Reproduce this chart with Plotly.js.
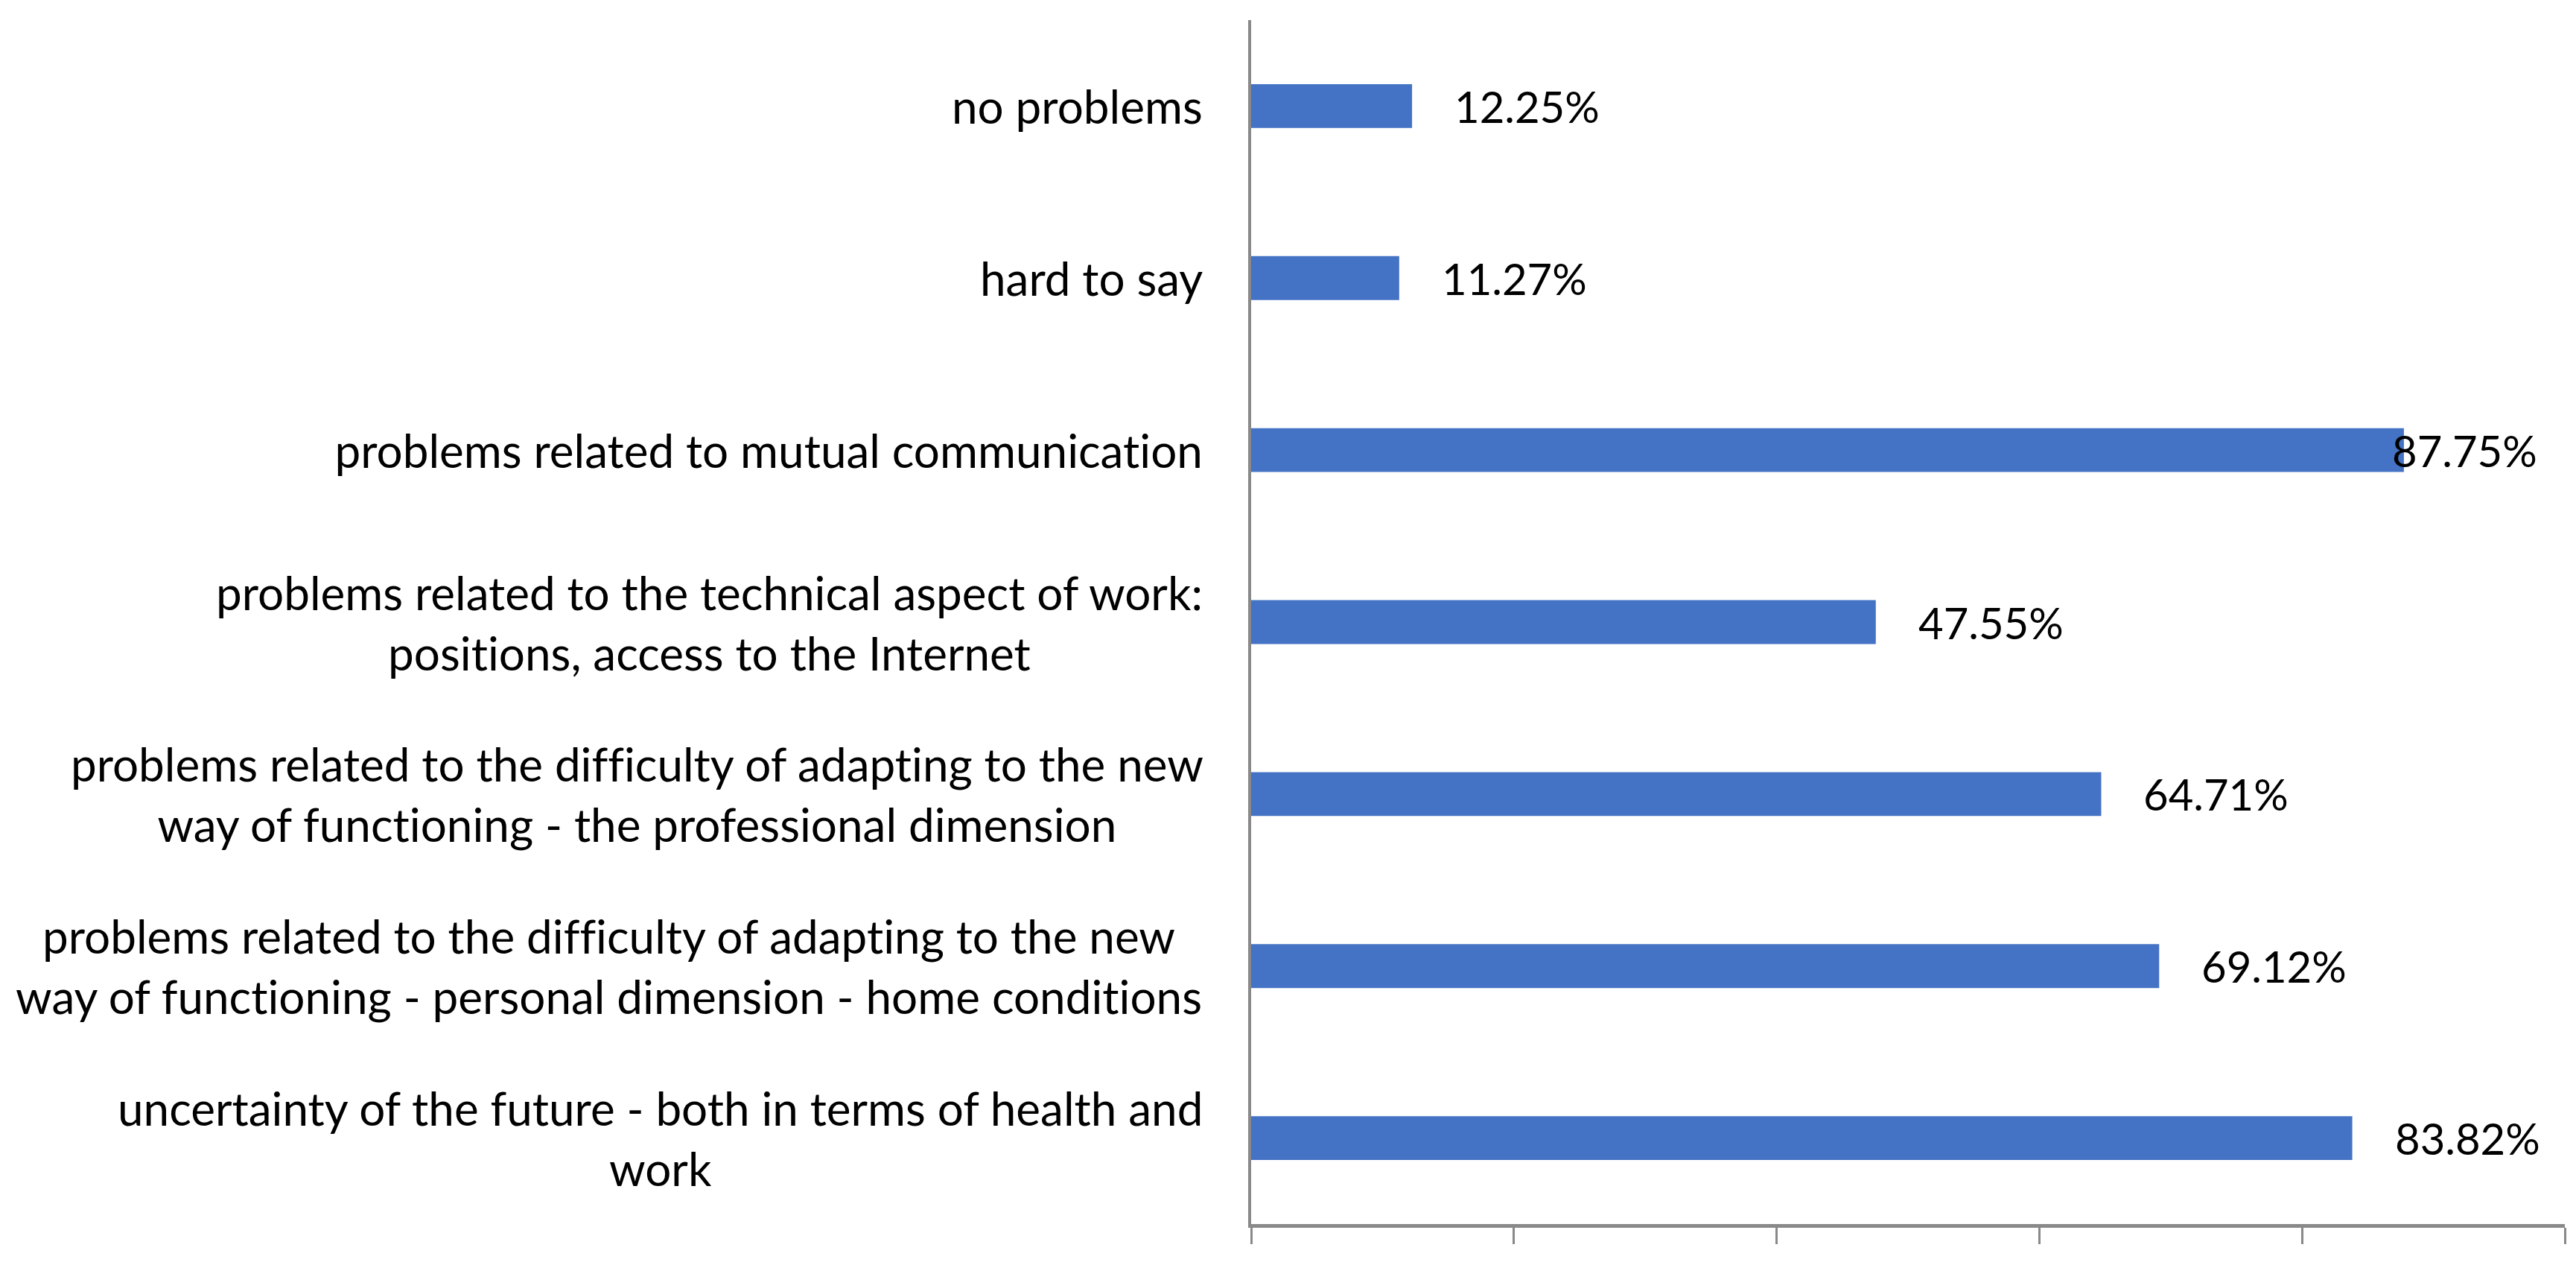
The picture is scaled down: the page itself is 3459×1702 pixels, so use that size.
<!DOCTYPE html>
<html>
<head>
<meta charset="utf-8">
<script src="https://cdn.plot.ly/plotly-3.0.1.min.js"></script>
<style>
html,body{margin:0;padding:0;background:#fff;}
#chart{width:3459px;height:1702px;}
#chart text{font-variant-ligatures:none !important;font-feature-settings:"liga" 0,"clig" 0 !important;}
</style>
</head>
<body>
<div id="chart"></div>
<script>
// Data
var categories = [
  "no problems",
  "hard to say",
  "problems related to mutual communication",
  "problems related to the technical aspect of work:<br>positions, access to the Internet",
  "problems related to the difficulty of adapting to the new<br>way of functioning - the professional dimension",
  "problems related to the difficulty of adapting to the new<br>way of functioning - personal dimension - home conditions",
  "uncertainty of the future - both in terms of health and<br>work"
];
var values = [12.25, 11.27, 87.75, 47.55, 64.71, 69.12, 83.82];
var valueLabels = ["12.25%", "11.27%", "87.75%", "47.55%", "64.71%", "69.12%", "83.82%"];

var W = 3459, H = 1702;
var mL = 1680, mR = 15, mT = 27, mB = 59;
var plotW = W - mL - mR;
var FONT = "Lato, 'Open Sans', sans-serif";
var fsCat = 62, fsVal = 58;

var trace = {
  type: 'bar',
  orientation: 'h',
  x: values,
  y: categories,
  width: 0.255,
  marker: {color: '#4472C4'},
  hoverinfo: 'none'
};

var annotations = [];
categories.forEach(function(c, i) {
  annotations.push({
    xref: 'paper', yref: 'y', x: 0, y: c,
    xanchor: 'right', yanchor: 'middle', xshift: -63,
    text: c, showarrow: false, align: 'center',
    font: {family: FONT, size: fsCat, color: '#000'}
  });
});
var estW = 195, gap = 55, rightLimit = W - 50;
values.forEach(function(v, i) {
  var px = mL + v / 100 * plotW;
  var a = {
    xref: 'x', yref: 'y', x: v, y: categories[i],
    yanchor: 'middle', showarrow: false,
    text: valueLabels[i],
    font: {family: FONT, size: fsVal, color: '#000'}
  };
  if (px + gap + estW > rightLimit) {
    a.xref = 'paper'; a.x = 1; a.xanchor = 'right';
    a.xshift = -(W - mR - rightLimit);
  } else {
    a.xanchor = 'left'; a.xshift = gap;
  }
  annotations.push(a);
});

var layout = {
  width: W, height: H,
  margin: {l: mL, r: mR, t: mT, b: mB, pad: 0},
  paper_bgcolor: '#fff', plot_bgcolor: '#fff',
  showlegend: false,
  font: {family: FONT, size: fsVal, color: '#000'},
  xaxis: {
    range: [0, 100], dtick: 20, tick0: 0,
    showgrid: false, zeroline: false,
    showline: true, linecolor: '#898989', linewidth: 5,
    ticks: 'outside', ticklen: 22, tickwidth: 3, tickcolor: '#898989',
    showticklabels: false, fixedrange: true
  },
  yaxis: {
    type: 'category',
    range: [6.5, -0.5],
    showgrid: false, zeroline: false,
    showline: true, linecolor: '#898989', linewidth: 4,
    ticks: '', showticklabels: false, fixedrange: true
  },
  annotations: annotations
};

Plotly.newPlot('chart', [trace], layout, {displayModeBar: false, staticPlot: true});
</script>
</body>
</html>
